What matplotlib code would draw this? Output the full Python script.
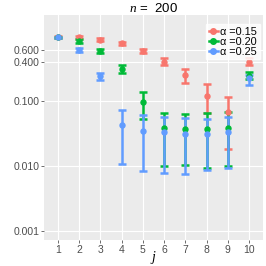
import numpy as np
import matplotlib.pyplot as plt
from matplotlib.lines import Line2D

plt.rcParams['font.family'] = ['Liberation Sans', 'DejaVu Sans']
plt.rcParams['mathtext.fontset'] = 'custom'
plt.rcParams['mathtext.it'] = 'Liberation Serif:italic'

j = np.arange(1, 11)
alpha_labels = ['α =0.15', 'α =0.20', 'α =0.25']
colors = ['#F8766D', '#00BA38', '#619CFF']

# alpha = 0.15
mean_15 = [0.95, 0.95, 0.87, 0.76, 0.59, 0.40, 0.25, 0.117, 0.067, 0.40]
lo_15 = [0.92, 0.90, 0.83, 0.72, 0.55, 0.36, 0.187, 0.065, 0.0185, 0.35]
hi_15 = [0.98, 1.00, 0.92, 0.80, 0.63, 0.46, 0.31, 0.178, 0.116, 0.45]

# alpha = 0.20
mean_20 = [0.94, 0.83, 0.59, 0.31, 0.095, 0.038, 0.037, 0.037, 0.038, 0.243]
lo_20 = [0.91, 0.77, 0.55, 0.27, 0.053, 0.010, 0.0102, 0.0093, 0.0098, 0.215]
hi_20 = [0.97, 0.89, 0.63, 0.355, 0.137, 0.065, 0.063, 0.0645, 0.067, 0.275]

# alpha = 0.25
mean_25 = [0.94, 0.61, 0.237, 0.042, 0.034, 0.033, 0.031, 0.031, 0.033, 0.22]
lo_25 = [0.91, 0.57, 0.205, 0.0108, 0.0084, 0.0079, 0.0076, 0.0086, 0.0092, 0.176]
hi_25 = [0.97, 0.65, 0.27, 0.073, 0.061, 0.057, 0.054, 0.053, 0.057, 0.245]

yticks = [0.001, 0.010, 0.100, 0.400, 0.600]
ytick_labels = ['0.001', '0.010', '0.100', '0.400', '0.600']

fig = plt.figure(figsize=(2.66, 2.66), dpi=100)
ax = fig.add_axes([44 / 266, 1 - 240 / 266, 219 / 266, 225.3 / 266])
ax.set_facecolor('#EBEBEB')
for s in ax.spines.values():
    s.set_visible(False)

series = [(mean_15, lo_15, hi_15), (mean_20, lo_20, hi_20), (mean_25, lo_25, hi_25)]
for (m, lo, hi), c in zip(series, colors):
    m = np.array(m)
    err = np.vstack([m - np.array(lo), np.array(hi) - m])
    ax.errorbar(j, m, yerr=err, fmt='o', color=c, ms=3.6, elinewidth=1.8,
                capsize=2.9, capthick=1.8, zorder=3)

ax.set_yscale('log')
ax.set_ylim(0.000728, 2.10)
ax.set_xlim(0.34, 10.66)
ax.set_yticks(yticks)
ax.set_yticklabels(ytick_labels)
ax.minorticks_off()
ax.set_xticks(j)
ax.set_xticklabels([str(v) for v in j])
ax.grid(True, color='white', lw=0.8)
ax.set_axisbelow(True)
ax.tick_params(axis='both', length=2, width=0.5, color='#333333',
               labelcolor='#4D4D4D', labelsize=7.5, pad=1.5)

fig.text(153.5 / 266, 1 - 8 / 266, r'$n$ =  200', fontsize=9.5,
         ha='center', va='center')
fig.text(153.5 / 266, 1 - 257 / 266, r'$j$', fontsize=10,
         ha='center', va='center')

handles = [Line2D([0], [0], color=c, marker='o', lw=1.8, ms=4) for c in colors]
leg = fig.legend(handles, alpha_labels, loc='upper right',
                 bbox_to_anchor=(260 / 266, 1 - 24 / 266), fontsize=7.8,
                 frameon=True, fancybox=False, handlelength=0.9,
                 handletextpad=0.2, borderpad=0.25, labelspacing=0.0,
                 borderaxespad=0)
leg.get_frame().set_facecolor('white')
leg.get_frame().set_edgecolor('white')

fig.savefig('out.png', dpi=100)
